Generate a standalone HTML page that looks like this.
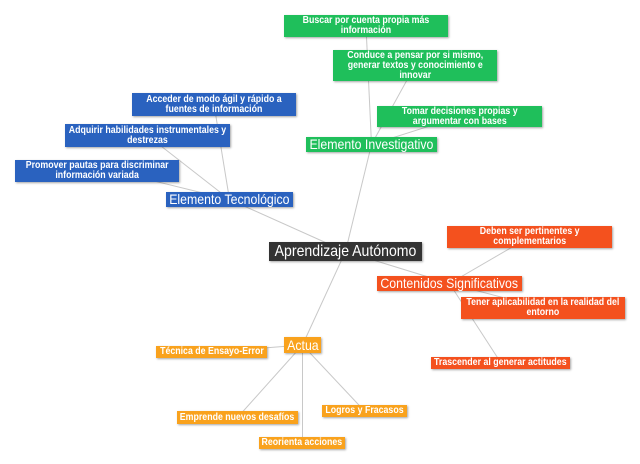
<!DOCTYPE html>
<html><head><meta charset="utf-8"><style>
html,body{margin:0;padding:0;background:#fff;}
#c{position:relative;width:640px;height:464px;overflow:hidden;background:#fff;font-family:"Liberation Sans",Arial,sans-serif;}
svg{position:absolute;left:0;top:0;}
.b{position:absolute;display:flex;align-items:center;justify-content:center;color:#fff;box-shadow:1px 1px 2px rgba(0,0,0,0.35);box-sizing:border-box;}
.b span{display:inline-block;white-space:nowrap;text-align:center;transform:scaleX(0.88);}
.s span{font-size:10px;font-weight:bold;line-height:10px;}
.m span{font-size:14px;line-height:15px;}
.g{background:#1fbf5b;}
.bl{background:#2a62bf;}
.r{background:#f4511e;}
.o{background:#f9a21d;}
.d{background:#333333;}
</style></head><body><div id="c">
<svg width="640" height="464" viewBox="0 0 640 464">
<g stroke="#c8c8c8" stroke-width="1" fill="none">
<line x1="371.5" y1="144.5" x2="366" y2="26"/>
<line x1="371.5" y1="144.5" x2="415" y2="65.5"/>
<line x1="371.5" y1="144.5" x2="459.5" y2="116.5"/>
<line x1="371.5" y1="144.5" x2="345.5" y2="251.5"/>
<line x1="229.5" y1="199.5" x2="214" y2="104.5"/>
<line x1="229.5" y1="199.5" x2="147.5" y2="135.5"/>
<line x1="229.5" y1="199.5" x2="97" y2="167"/>
<line x1="229.5" y1="199.5" x2="345.5" y2="251.5"/>
<line x1="449.5" y1="283.5" x2="529.5" y2="237"/>
<line x1="449.5" y1="283.5" x2="543" y2="308"/>
<line x1="449.5" y1="283.5" x2="501" y2="363"/>
<line x1="449.5" y1="283.5" x2="345.5" y2="251.5"/>
<line x1="302.5" y1="345" x2="211.5" y2="352"/>
<line x1="302.5" y1="345" x2="237.5" y2="417.5"/>
<line x1="302.5" y1="345" x2="364.5" y2="411"/>
<line x1="302.5" y1="345" x2="302.5" y2="443"/>
<line x1="302.5" y1="345" x2="345.5" y2="251.5"/>
</g>
</svg>

<div class="b s g" style="left:284px;top:15px;width:164px;height:22px;"><span>Buscar por cuenta propia más<br>información</span></div>
<div class="b s g" style="left:333px;top:50px;width:164px;height:31px;"><span>Conduce a pensar por si mismo,<br>generar textos y conocimiento e<br>innovar</span></div>
<div class="b s g" style="left:377px;top:106px;width:165px;height:21px;"><span>Tomar decisiones propias y<br>argumentar con bases</span></div>
<div class="b m g" style="left:306px;top:137px;width:131px;height:15px;"><span>Elemento Investigativo</span></div>

<div class="b s bl" style="left:132px;top:93px;width:164px;height:23px;"><span>Acceder de modo ágil y rápido a<br>fuentes de información</span></div>
<div class="b s bl" style="left:65px;top:124px;width:165px;height:23px;"><span>Adquirir habilidades instrumentales y<br>destrezas</span></div>
<div class="b s bl" style="left:15px;top:160px;width:164px;height:22px;"><span>Promover pautas para discriminar<br>información variada</span></div>
<div class="b m bl" style="left:166px;top:192px;width:127px;height:15px;"><span>Elemento Tecnológico</span></div>

<div class="b d" style="left:269px;top:242px;width:153px;height:19px;"><span style="font-size:16px;line-height:18px;">Aprendizaje Autónomo</span></div>

<div class="b s r" style="left:447px;top:226px;width:165px;height:22px;"><span>Deben ser pertinentes y<br>complementarios</span></div>
<div class="b m r" style="left:377px;top:276px;width:145px;height:15px;"><span>Contenidos Significativos</span></div>
<div class="b s r" style="left:461px;top:297px;width:164px;height:22px;"><span>Tener aplicabilidad en la realidad del<br>entorno</span></div>
<div class="b s r" style="left:431px;top:357px;width:139px;height:12px;"><span>Trascender al generar actitudes</span></div>

<div class="b m o" style="left:284px;top:337px;width:37px;height:16px;"><span>Actua</span></div>
<div class="b s o" style="left:156px;top:346px;width:111px;height:12px;"><span>Técnica de Ensayo-Error</span></div>
<div class="b s o" style="left:177px;top:411px;width:121px;height:13px;"><span>Emprende nuevos desafíos</span></div>
<div class="b s o" style="left:322px;top:405px;width:85px;height:12px;"><span>Logros y Fracasos</span></div>
<div class="b s o" style="left:259px;top:437px;width:86px;height:12px;"><span>Reorienta acciones</span></div>
</div></body></html>
